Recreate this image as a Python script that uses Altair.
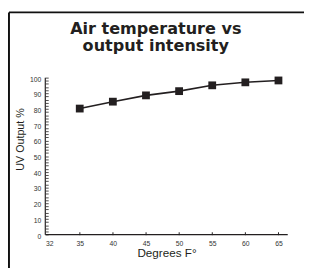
import altair as alt
import pandas as pd

# ---- data ----
temps = [35, 40, 45, 50, 55, 60, 65]
uv_output = [80.3, 84.7, 88.7, 91.4, 95.1, 97.0, 98.2]
x_tick_values = [30.4, 35, 40, 45, 50, 55, 60, 65]
x_origin_label = "32"
y_tick_values = [0, 2, 4, 6, 8, 10, 12, 14, 16, 18, 20, 22, 24, 26, 28, 30, 32, 34,
                 36, 38, 40, 42, 44, 46, 48, 50, 52, 54, 56, 58, 60, 62, 64, 66, 68,
                 70, 72, 74, 76, 78, 80, 82, 84, 86, 88, 90, 92, 94, 96, 98, 100]
title_lines = ["Air temperature vs", "output intensity"]
x_title = "Degrees F°"
y_title = "UV Output %"

W, H = 249, 161.3
ink = "#231f20"
df = pd.DataFrame({"temp": temps, "uv": uv_output})
blank = pd.DataFrame({"k": [0]})

x_enc = alt.X(
    "temp:Q",
    scale=alt.Scale(domain=[29.8, 66.4], nice=False, zero=False),
    axis=alt.Axis(
        values=x_tick_values,
        labelExpr=f"datum.value == 30.4 ? '{x_origin_label}' : datum.label",
        offset=-3, tickSize=3, domain=False, grid=False,
        labelPadding=5, labelFont="Liberation Sans", labelFontSize=7,
        labelColor="#333333", labelFlush=False, labelOverlap=False,
        tickColor={"condition": {"test": "datum.value == 30.4", "value": "transparent"}, "value": ink},
        tickWidth=1,
        title=x_title, titleFont="Liberation Sans", titleFontSize=12,
        titleFontWeight="normal", titleColor=ink, titlePadding=1,
    ),
)
y_enc = alt.Y(
    "uv:Q",
    scale=alt.Scale(domain=[0, 100], nice=False, zero=True),
    axis=alt.Axis(
        values=y_tick_values,
        labelExpr="datum.value % 10 == 0 ? datum.label : ''",
        offset=-3, tickSize=3, domain=False, grid=False,
        labelPadding=4.6, labelOffset=1.5, labelFont="Liberation Sans",
        labelFontSize=7, labelColor="#333333", labelOverlap=False, labelFlush=False,
        tickColor=ink, tickWidth=0.8,
        title=y_title, titleFont="Liberation Sans", titleFontSize=11,
        titleFontWeight="normal", titleColor=ink, titlePadding=4.5, titleY=63,
    ),
)

base = alt.Chart(df).encode(x=x_enc, y=y_enc)
line = base.mark_line(color=ink, strokeWidth=1.6)
pts = base.mark_square(size=64, color=ink, opacity=1)

x_axis_line = alt.Chart(blank).mark_rule(color=ink, strokeWidth=1.2).encode(
    x=alt.value(0), x2=alt.value(W), y=alt.value(H))
y_axis_line = alt.Chart(blank).mark_rule(color=ink, strokeWidth=1.2).encode(
    x=alt.value(0), y=alt.value(0), y2=alt.value(H))
border_top = alt.Chart(blank).mark_rule(color="#111111", strokeWidth=2).encode(
    x=alt.value(-37.3), x2=alt.value(W + 20), y=alt.value(-67))
border_left = alt.Chart(blank).mark_rule(color="#111111", strokeWidth=2).encode(
    x=alt.value(-37.3), y=alt.value(-67), y2=alt.value(H + 40))

chart = alt.layer(line, pts, x_axis_line, y_axis_line, border_top, border_left).properties(
    width=W, height=H,
    title=alt.TitleParams(
        text=title_lines, font="DejaVu Sans", fontSize=16.5, fontWeight="bold",
        color=ink, anchor="middle", frame="group", dx=-11, offset=-60,
        lineHeight=17, baseline="bottom",
    ),
    autosize=alt.AutoSizeParams(type="none"),
    padding={"left": 38.3, "top": 68, "right": 16.7, "bottom": 30.7},
    background="white",
).configure_view(stroke=None)

chart.save("out.html", embed_options={"renderer": "svg", "actions": False})
